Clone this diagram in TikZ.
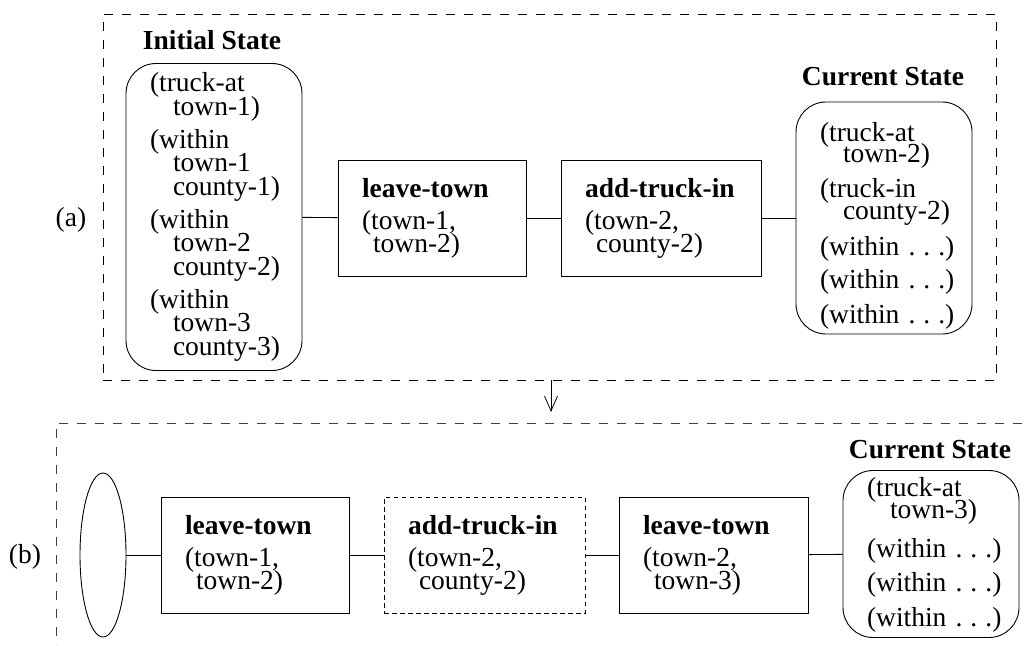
\documentclass[tikz,border=0pt]{standalone}
\usepackage{fontspec}
\setmainfont{Liberation Serif}
\usetikzlibrary{shapes.geometric,arrows.meta}
% one text line, kept unbroken; continuation lines are indented
\newcommand\firstln[1]{\mbox{#1}}
\newcommand\subln[1]{\mbox{\hspace*{23pt}#1}}
\newcommand\withinln{\mbox{(within .\hspace{8pt}.\hspace{8pt}.)}}
% text size with a fixed line pitch (no extra lineskip)
\newcommand\txtsize[1]{\fontsize{27.5}{#1}\selectfont\lineskiplimit=-100pt\relax}
\begin{document}
\begin{tikzpicture}[x=1pt,y=-1pt,
  every node/.style={font=\txtsize{23}},
  frame/.style={draw, dash pattern=on 9pt off 9pt, line width=0.8pt},
  statebox/.style={draw, line width=0.9pt, rounded corners=30pt, align=left,
    inner xsep=24pt, inner ysep=0pt, text width=128pt},
  actbox/.style={draw, line width=0.9pt, align=left, inner xsep=24pt,
    inner ysep=0pt, minimum height=116pt},
  plannedbox/.style={actbox, dash pattern=on 4.5pt off 3.5pt},
  title/.style={font=\txtsize{23}\bfseries},
  link/.style={line width=0.9pt}
]
\useasboundingbox (0,0) rectangle (1032,645);

% ---------------- (a) ----------------
\node[frame, minimum width=893pt, minimum height=366pt, inner sep=0pt] (panelA) at (549.5,197) {};
\node (labA) at (71,220) {(a)};

\node[title] (initT) at (212,40) {Initial State};
\node[statebox, minimum height=307pt, font=\txtsize{23.5}] (init) at (214,217) {%
  \firstln{(truck-at}\\ \subln{town-1)}\\[9.5pt]
  \firstln{(within}\\ \subln{town-1}\\ \subln{county-1)}\\[9.5pt]
  \firstln{(within}\\ \subln{town-2}\\ \subln{county-2)}\\[9.5pt]
  \firstln{(within}\\ \subln{town-3}\\ \subln{county-3)}};

\node[actbox, text width=140pt] (leaveA) at (432,218) {%
  \textbf{leave-town}\\[9pt] (town-1,\\ \hspace*{11pt}town-2)};
\node[actbox, text width=152pt] (addA) at (661,218) {%
  \textbf{add-truck-in}\\[9pt] (town-2,\\ \hspace*{11pt}county-2)};

\node[title] (curAT) at (883,77) {Current State};
\node[statebox, minimum height=232pt, font=\txtsize{21.5}] (curA) at (884,218) {%
  \firstln{\rule{0pt}{35pt}(truck-at}\\ \subln{town-2)}\\[13.5pt]
  \firstln{(truck-in}\\ \subln{county-2)}\\[15pt]
  \withinln\\[11.5pt] \withinln\\[13.5pt] \withinln};

\draw[link] (init) -- (leaveA);
\draw[link] (leaveA) -- (addA);
\draw[link] (addA) -- (curA);

% ---------------- step between the plans ----------------
\coordinate (tip) at (551,412);
\draw[line width=0.8pt, -{Straight Barb[length=15pt,width=13pt,line width=0.8pt]}]
  (panelA.south -| tip) -- (tip);

% ---------------- (b) ----------------
\draw[frame, draw=black!75] (1022,423) -- (56,423) -- (56,645);
\node (labB) at (25,557) {(b)};

\node[draw, ellipse, line width=0.9pt, minimum width=46pt, minimum height=164pt, inner sep=0pt] (start) at (103,555) {};
\node[actbox, text width=140pt] (leaveB) at (255,555) {%
  \textbf{leave-town}\\[9pt] (town-1,\\ \hspace*{11pt}town-2)};
\node[plannedbox, text width=153pt] (addB) at (484.5,555) {%
  \textbf{add-truck-in}\\[9pt] (town-2,\\ \hspace*{11pt}county-2)};
\node[actbox, text width=141pt] (leaveB2) at (713.5,555) {%
  \textbf{leave-town}\\[9pt] (town-2,\\ \hspace*{11pt}town-3)};

\node[title] (curBT) at (930,450) {Current State};
\node[statebox, minimum height=167pt, font=\txtsize{22}] (curB) at (931,554) {%
  \firstln{\rule{0pt}{21pt}(truck-at}\\ \subln{town-3)}\\[16.5pt]
  \withinln\\[12pt] \withinln\\[13pt] \withinln};

\draw[link] (start) -- (leaveB);
\draw[link] (leaveB) -- (addB);
\draw[link] (addB) -- (leaveB2);
\draw[link] (leaveB2) -- (curB);
\end{tikzpicture}
\end{document}
